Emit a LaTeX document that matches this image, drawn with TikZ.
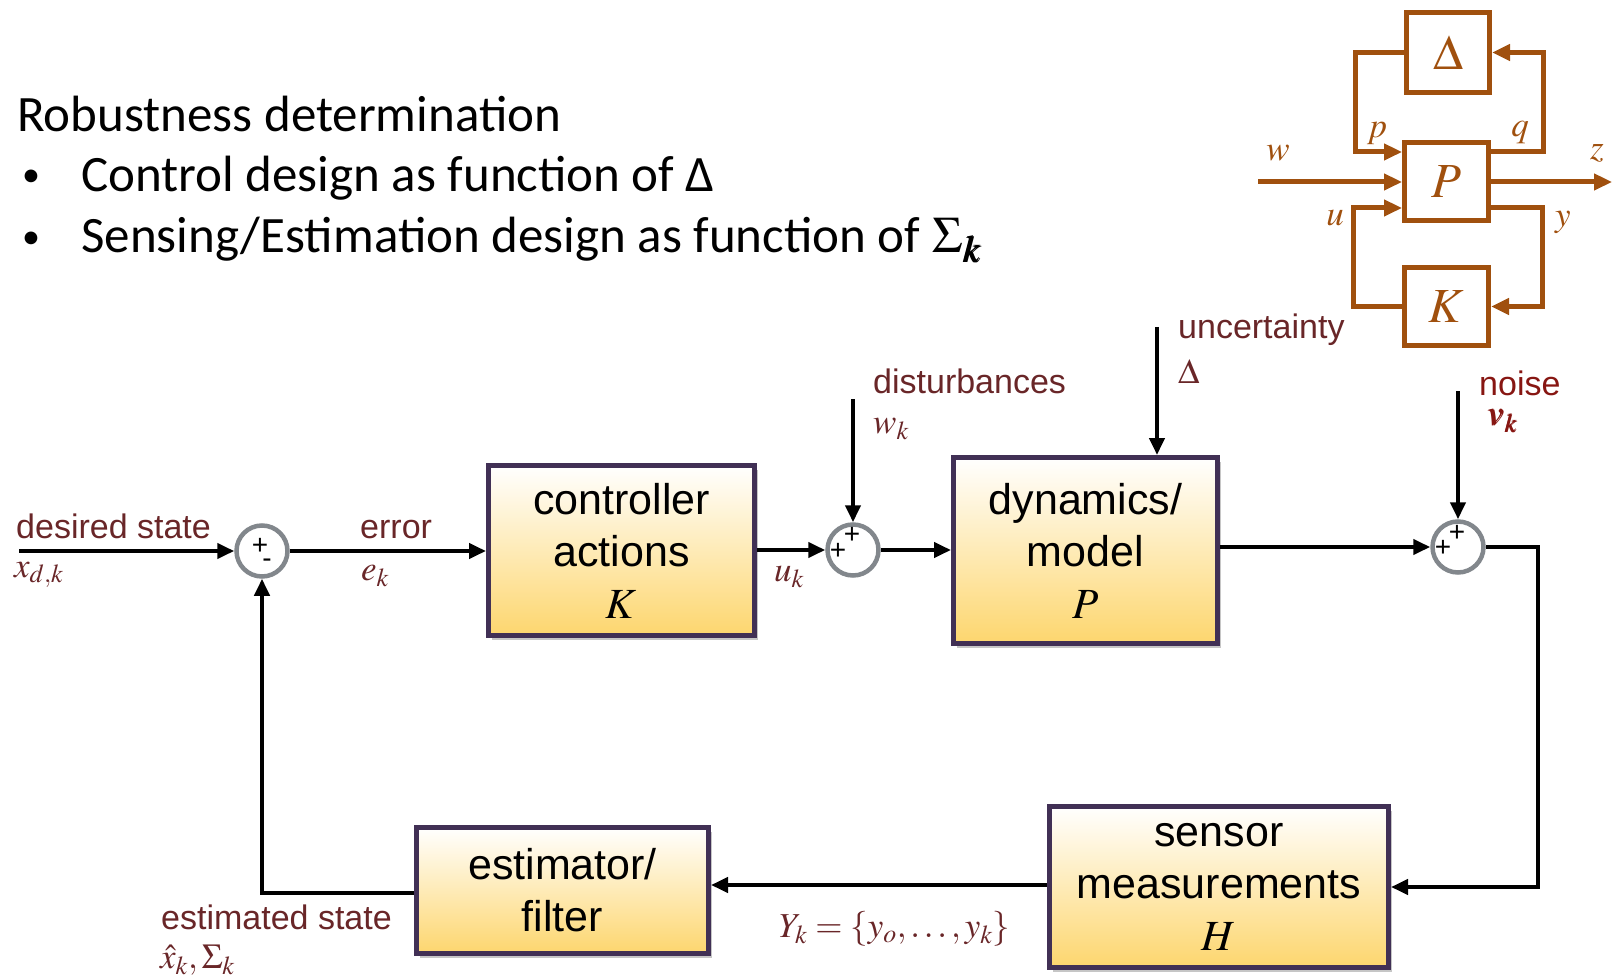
\RequirePackage{fix-cm}
\documentclass[tikz,border=0pt]{standalone}
\usepackage{mathptmx}
\usepackage{bm}
\usepackage[no-math]{fontspec}
\setmainfont{Liberation Sans}
\newfontfamily\calfont{Carlito}
\usetikzlibrary{arrows.meta,shadows,calc}
\definecolor{brn}{RGB}{160,80,14}
\definecolor{lab}{RGB}{105,38,40}
\definecolor{nred}{RGB}{135,22,18}
\definecolor{bord}{RGB}{65,48,85}
\definecolor{sgray}{RGB}{130,135,140}
\definecolor{byel}{RGB}{253,214,110}
\begin{document}
\begin{tikzpicture}[x=1pt,y=-1pt,
  arr/.style={line width=4, -{Triangle[length=17,width=15]}},
  barr/.style={draw=brn, line width=5, -{Triangle[length=18,width=16]}},
  bbox/.style={draw=brn, line width=5, fill=white, inner sep=0, font=\fontsize{49}{50}\selectfont, text=brn},
  blk/.style={draw=bord, line width=5, top color=white, bottom color=byel, align=center,
    font=\fontsize{43}{52}\selectfont, inner sep=0,
    drop shadow={shadow xshift=3pt, shadow yshift=-4pt, opacity=0.45}},
  sumc/.style={circle, draw=sgray, line width=4.5, minimum size=51, inner sep=0, fill=white},
  lbl/.style={anchor=west, inner sep=0, text=lab, font=\fontsize{34}{40}\selectfont},
  mlbl/.style={anchor=west, inner sep=0, text=lab, font=\fontsize{35}{40}\selectfont},
  blbl/.style={inner sep=0, text=brn, font=\fontsize{35}{40}\selectfont},
  sgn/.style={inner sep=0, font=\fontsize{28}{30}\selectfont},
  ttl/.style={anchor=west, inner sep=0, font=\calfont\fontsize{51}{60}\selectfont},
  bul/.style={anchor=west, inner sep=0, font=\calfont\fontsize{36}{40}\selectfont}
]
\useasboundingbox (0,0) rectangle (1612,976);

% title text
\node[ttl] (title) at (17,114) {Robustness determination};
\node[bul] (b1) at (22,178) {•};
\node[ttl] (t1) at (81,178) {Control design as function of Δ};
\node[bul] (b2) at (22,240) {•};
\node[ttl] (t2) at (81,240) {Sensing/Estimation design as function of $\Sigma_{\bm{k}}$};

% top-right P-Delta-K diagram
\node[bbox, minimum width=83, minimum height=80] (D) at (1448,52.5) {$\Delta$};
\node[bbox, minimum width=84, minimum height=78] (P) at (1446.5,181.5) {$P$};
\node[bbox, minimum width=84, minimum height=78] (K) at (1446.5,306.5) {$K$};
\coordinate (pin) at (1402,152);
\coordinate (qout) at (1491,152);
\coordinate (uin) at (1402,208);
\coordinate (yout) at (1491,208);
\coordinate (win) at (1258,182);
\coordinate (zout) at (1612,182);
\draw[barr] (D.west) -- ++(-49,0) |- (pin);
\draw[barr] (qout) -- ++(52,0) |- (D.east);
\draw[barr] (K.west) -- ++(-49,0) |- (uin);
\draw[barr] (yout) -- ++(51,0) |- (K.east);
\draw[barr] (win) -- (P.west |- win);
\draw[barr] (P.east |- zout) -- (zout);
\node[blbl] (lw) at (1278,153) {$w$};
\node[blbl] (lp) at (1377,133) {$p$};
\node[blbl] (lq) at (1520,133) {$q$};
\node[blbl] (lz) at (1597,153) {$z$};
\node[blbl] (lu) at (1335,218) {$u$};
\node[blbl] (ly) at (1563,222) {$y$};

% main blocks
\node[blk, minimum width=266, minimum height=170] (ctrl) at (621.5,550.5) {controller\\actions\\$K$};
\node[blk, minimum width=264, minimum height=186] (dyn) at (1085.5,550.5) {dynamics/\\model\\$P$};
\node[blk, minimum width=339, minimum height=161] (sens) at (1219,887) {sensor\\measurements\\$H$};
\node[blk, minimum width=292, minimum height=126] (est) at (562.5,890.5) {estimator/\\filter};

% summing junctions
\node[sumc] (s1) at (262,551) {};
\node[sumc] (s2) at (853,550) {};
\node[sumc] (s3) at (1458,547) {};
\node[sgn] (s1p) at (260,546) {+};
\node[sgn] (s1m) at (267,563) {-};
\node[sgn] (s2a) at (838,551) {+};
\node[sgn] (s2b) at (852,535) {+};
\node[sgn] (s3a) at (1443,548) {+};
\node[sgn] (s3b) at (1457,533) {+};

% connectors
\coordinate (ds) at (19,551);
\coordinate (dtop) at (853,399);
\coordinate (utop) at (1157,327);
\coordinate (ntop) at (1458,391);
\draw[arr] (ds) -- (s1);
\draw[arr] (s1) -- (ctrl.west |- s1);
\draw[arr] (ctrl.east |- s2) -- (s2);
\draw[arr] (s2) -- (dyn.west |- s2);
\draw[arr] (dyn.east |- s3) -- (s3);
\draw[arr] (dtop) -- (s2);
\draw[arr] (utop) -- (utop |- dyn.north);
\draw[arr] (ntop) -- (s3);
\draw[arr] (s3.east) -- ++(52,0) |- (sens.east);
\draw[arr] (sens.west |- 0,885) -- (est.east |- 0,885);
\draw[arr] (est.west |- 0,893) -| (s1.south);

% labels
\node[lbl] (lds) at (16,526) {desired state};
\node[mlbl] (lxd) at (14,575) {$x_{d,k}$};
\node[lbl] (ler) at (360,530) {error};
\node[mlbl] (lek) at (361,576) {$e_k$};
\node[mlbl] (luk) at (774,577) {$u_k$};
\node[lbl] (ldi) at (873,381) {disturbances};
\node[mlbl] (lwk) at (873,429) {$w_k$};
\node[lbl] (lun) at (1178,330) {uncertainty};
\node[mlbl] (lde) at (1178,372) {$\Delta$};
\node[lbl, text=nred] (lno) at (1479,383) {noise};
\node[mlbl, text=nred] (lvk) at (1487,421) {$\bm{v}_{\bm{k}}$};
\node[lbl] (les) at (161,917) {estimated state};
\node[mlbl] (lxh) at (160,960) {$\hat{x}_k,\Sigma_k$};
\node[mlbl] (lyk) at (779,929) {$Y_k=\{y_o,\ldots,y_k\}$};
\end{tikzpicture}
\end{document}
